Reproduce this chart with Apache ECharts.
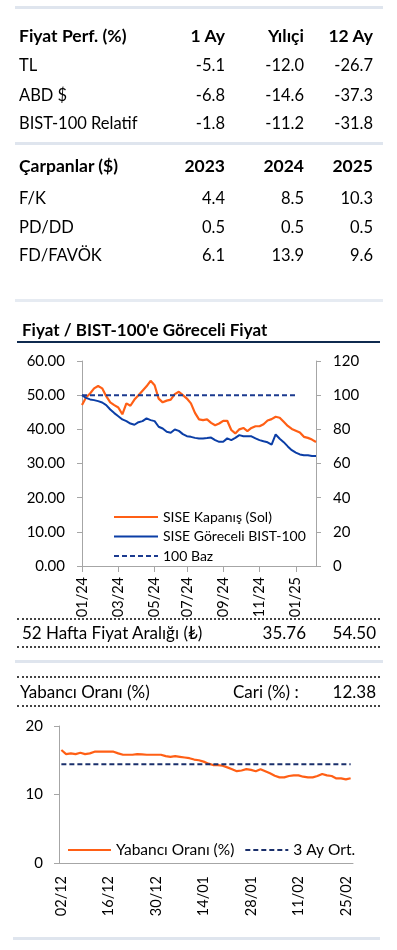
<!DOCTYPE html>
<html><head><meta charset="utf-8">
<script src="https://cdn.jsdelivr.net/npm/echarts@6/dist/echarts.min.js"></script>
<style>
html,body{margin:0;padding:0;background:#fff;}
#page{position:relative;width:397px;height:950px;overflow:hidden;font-family:Lato,"Noto Sans",sans-serif;color:#000;}
.t{position:absolute;height:20px;line-height:20px;white-space:nowrap;font-size:16.5px;}
.b{font-weight:bold;font-size:17.5px;}
.bar{position:absolute;background:#dfe5ee;}
.dot{position:absolute;left:17px;width:363px;height:0;border-top:2px dotted #444;}
#chart{position:absolute;left:0;top:0;width:397px;height:950px;}
</style></head>
<body><div id="page"><div id="chart"></div></div>
<script>
// ---------- table data ----------
const perfHeader = ['Fiyat Perf. (%)', '1 Ay', 'Yılıçi', '12 Ay'];
const perfRows = [
  ['TL', '-5.1', '-12.0', '-26.7'],
  ['ABD $', '-6.8', '-14.6', '-37.3'],
  ['BIST-100 Relatif', '-1.8', '-11.2', '-31.8']
];
const multHeader = ['Çarpanlar ($)', '2023', '2024', '2025'];
const multRows = [
  ['F/K', '4.4', '8.5', '10.3'],
  ['PD/DD', '0.5', '0.5', '0.5'],
  ['FD/FAVÖK', '6.1', '13.9', '9.6']
];
const chartTitle = "Fiyat / BIST-100'e Göreceli Fiyat";
const rangeRow = ['52 Hafta Fiyat Aralığı (₺)', '35.76', '54.50'];
const foreignRow = ['Yabancı Oranı (%)', 'Cari (%) :', '12.38'];

// ---------- chart 1 data (weekly) ----------
const weekDates = [
 '2024-01-01','2024-01-08','2024-01-15','2024-01-22','2024-01-29',
 '2024-02-05','2024-02-12','2024-02-19','2024-02-26',
 '2024-03-04','2024-03-11','2024-03-18','2024-03-25',
 '2024-04-01','2024-04-08','2024-04-15','2024-04-22','2024-04-29',
 '2024-05-06','2024-05-13','2024-05-20','2024-05-27',
 '2024-06-03','2024-06-10','2024-06-17','2024-06-24',
 '2024-07-01','2024-07-08','2024-07-15','2024-07-22','2024-07-29',
 '2024-08-05','2024-08-12','2024-08-19','2024-08-26',
 '2024-09-02','2024-09-09','2024-09-16','2024-09-23','2024-09-30',
 '2024-10-07','2024-10-14','2024-10-21','2024-10-28',
 '2024-11-04','2024-11-11','2024-11-18','2024-11-25',
 '2024-12-02','2024-12-09','2024-12-16','2024-12-23','2024-12-30',
 '2025-01-06','2025-01-13','2025-01-20','2025-01-27',
 '2025-02-03','2025-02-10'
];
const closePrice = [
 47.1,49.3,50.5,52.0,52.7,52.0,49.7,47.9,47.1,46.4,
 44.4,47.6,46.9,48.7,50.0,51.3,52.6,54.2,52.9,49.0,
 47.9,48.4,48.7,50.3,51.0,50.0,49.0,47.6,44.8,42.9,
 42.7,42.9,41.9,41.2,41.7,42.5,42.5,39.8,38.8,40.0,
 40.4,39.5,40.4,40.9,40.9,41.5,42.6,43.0,43.7,43.4,
 42.2,41.0,40.1,39.6,39.1,37.8,37.5,37.0,36.3
];
const relativeBist = [
 100,98.4,97.5,97.1,96.5,95.7,94.2,91.6,89.5,87.7,
 85.8,84.8,83.4,82.7,84.2,84.8,86.4,85.4,84.8,81.5,
 80.5,78.6,78.0,79.9,79.1,77.2,76.0,75.6,75.0,74.7,
 74.7,74.9,75.2,73.7,72.7,72.7,74.7,73.7,75.0,76.6,
 76.0,76.0,75.9,74.7,73.7,73.0,72.4,71.0,77.0,74.5,
 72.5,70.0,67.8,66.4,65.3,64.8,64.8,64.4,64.4
];
const baseLine = [
 100,100,100,100,100,100,100,100,100,100,
 100,100,100,100,100,100,100,100,100,100,
 100,100,100,100,100,100,100,100,100,100,
 100,100,100,100,100,100,100,100,100,100,
 100,100,100,100,100,100,100,100,100,100,
 100,100,100,100,null,null,null,null,null
];
const leftTicks = [0, 60, 10];   // min, max, step
const rightTicks = [0, 120, 20];

// ---------- chart 2 data (daily) ----------
const dayDates = [
 '02/12','03/12','04/12','05/12','06/12','09/12','10/12','11/12','12/12','13/12',
 '16/12','17/12','18/12','19/12','20/12','23/12','24/12','25/12','26/12','27/12',
 '30/12','31/12','02/01','03/01','06/01','07/01','08/01','09/01','10/01','13/01',
 '14/01','15/01','16/01','17/01','20/01','21/01','22/01','23/01','24/01','27/01',
 '28/01','29/01','30/01','31/01','03/02','04/02','05/02','06/02','07/02','10/02',
 '11/02','12/02','13/02','14/02','17/02','18/02','19/02','20/02','21/02','24/02',
 '25/02','26/02'
];
const foreignShare = [
 16.5,15.9,16.0,15.9,16.1,15.9,16.0,16.25,16.25,16.25,
 16.25,16.25,16.0,15.8,15.8,15.8,15.9,15.85,15.8,15.8,
 15.8,15.8,15.6,15.5,15.6,15.5,15.4,15.3,15.1,15.0,
 14.8,14.5,14.3,14.3,14.2,13.96,13.7,13.4,13.5,13.7,
 13.6,13.4,13.7,13.4,13.1,12.75,12.5,12.5,12.7,12.8,
 12.8,12.6,12.5,12.5,12.7,13.0,12.8,12.7,12.35,12.35,
 12.2,12.38
];
const avg3m = [
 14.4,14.4,14.4,14.4,14.4,14.4,14.4,14.4,14.4,14.4,
 14.4,14.4,14.4,14.4,14.4,14.4,14.4,14.4,14.4,14.4,
 14.4,14.4,14.4,14.4,14.4,14.4,14.4,14.4,14.4,14.4,
 14.4,14.4,14.4,14.4,14.4,14.4,14.4,14.4,14.4,14.4,
 14.4,14.4,14.4,14.4,14.4,14.4,14.4,14.4,14.4,14.4,
 14.4,14.4,14.4,14.4,14.4,14.4,14.4,14.4,14.4,14.4,
 14.4,14.4
];
const foreignTicks = [0, 20, 10];

// ---------- HTML layout ----------
const page = document.getElementById('page');
function txt(s, cls, left, right, cy, size) {
  const d = document.createElement('div');
  d.className = 't ' + (cls || '');
  d.textContent = s;
  if (left != null) d.style.left = left + 'px';
  if (right != null) d.style.right = (397 - right) + 'px';
  d.style.top = (cy - 10) + 'px';
  if (size) d.style.fontSize = size + 'px';
  page.appendChild(d);
}
function bar(top, h, left, w, color) {
  const d = document.createElement('div');
  d.className = 'bar';
  d.style.cssText = `top:${top}px;height:${h}px;left:${left}px;width:${w}px;` + (color ? `background:${color};` : '');
  page.appendChild(d);
}
function dot(top) {
  const d = document.createElement('div');
  d.className = 'dot';
  d.style.top = top + 'px';
  page.appendChild(d);
}
const colRight = [225, 304, 373];
function table(header, rows, headerY, rowYs) {
  txt(header[0], 'b', 19, null, headerY);
  for (let c = 1; c < 4; c++) txt(header[c], 'b', null, colRight[c - 1], headerY);
  rows.forEach((r, i) => {
    txt(r[0], '', 19, null, rowYs[i]);
    for (let c = 1; c < 4; c++) txt(r[c], '', null, colRight[c - 1], rowYs[i]);
  });
}
bar(6, 3, 15, 368);
table(perfHeader, perfRows, 36, [65, 95, 123]);
bar(142, 3, 15, 368);
table(multHeader, multRows, 166, [198, 227, 255]);
bar(299, 3, 15, 368, '#e6ebf2');
txt(chartTitle, 'b', 22, null, 330, 17);
bar(341, 2, 17, 363, '#0f2a4f');
dot(618);
txt(rangeRow[0], '', 22, null, 633, 17);
txt(rangeRow[1], '', null, 306, 633, 17);
txt(rangeRow[2], '', null, 376, 633, 17);
dot(646);
bar(660, 3, 15, 368);
dot(676);
txt(foreignRow[0], '', 20, null, 692, 17);
txt(foreignRow[1], '', 233, null, 692, 17);
txt(foreignRow[2], '', null, 376, 692, 17);
dot(705);
bar(937, 3, 13, 367);

// ---------- ECharts ----------
const FONT = 'Lato';
const axisGrey = '#a6a6a6';
const ORANGE = '#ff5f15';
const BLUE = '#0b3ea6';
const NAVY = '#1b3a8f';
const chart = echarts.init(document.getElementById('chart'), null, {renderer: 'canvas'});
function isOddMonthStart(v) {
  const m = +v.slice(5, 7), d = +v.slice(8, 10);
  return m % 2 === 1 && d <= 7;
}
chart.setOption({
  animation: false,
  backgroundColor: 'transparent',
  textStyle: {fontFamily: FONT, color: '#000'},
  grid: [
    {left: 82, top: 361, width: 234, height: 205},
    {left: 59, top: 726, width: 294, height: 137}
  ],
  legend: [
    {
      orient: 'vertical', left: 108, top: 505, itemWidth: 44, itemHeight: 14, itemGap: 5.5,
      itemStyle: {opacity: 0},
      textStyle: {fontFamily: FONT, fontSize: 14, color: '#000', lineHeight: 14},
      data: ['SISE Kapanış (Sol)', 'SISE Göreceli BIST-100', '100 Baz']
    },
    {
      orient: 'horizontal', left: 62, top: 837, itemWidth: 43, itemHeight: 14, itemGap: 10,
      itemStyle: {opacity: 0},
      textStyle: {fontFamily: FONT, fontSize: 15.5, color: '#000'},
      data: ['Yabancı Oranı (%)', '3 Ay Ort.']
    }
  ],
  xAxis: [
    {
      type: 'category', gridIndex: 0, data: weekDates, boundaryGap: false,
      axisLine: {lineStyle: {color: axisGrey, width: 1}},
      axisTick: {show: true, length: 6, interval: (i, v) => isOddMonthStart(v), lineStyle: {color: axisGrey}},
      axisLabel: {
        interval: (i, v) => isOddMonthStart(v), rotate: 90, margin: 11,
        fontFamily: FONT, fontSize: 14.5, color: '#000',
        formatter: v => v.slice(5, 7) + '/' + v.slice(2, 4)
      },
      splitLine: {show: false}
    },
    {
      type: 'category', gridIndex: 1, data: dayDates, boundaryGap: true,
      axisLine: {lineStyle: {color: axisGrey, width: 1}},
      axisTick: {show: false},
      axisLabel: {
        interval: (i) => i % 10 === 0, rotate: 90, margin: 13,
        fontFamily: FONT, fontSize: 14.5, color: '#000'
      },
      splitLine: {show: false}
    }
  ],
  yAxis: [
    {
      type: 'value', gridIndex: 0, position: 'left',
      min: leftTicks[0], max: leftTicks[1], interval: leftTicks[2],
      axisLine: {show: true, lineStyle: {color: axisGrey}},
      axisTick: {show: true, length: 5, lineStyle: {color: axisGrey}},
      axisLabel: {margin: 17, fontFamily: FONT, fontSize: 15, color: '#000', formatter: v => v.toFixed(2)},
      splitLine: {show: false}
    },
    {
      type: 'value', gridIndex: 0, position: 'right',
      min: rightTicks[0], max: rightTicks[1], interval: rightTicks[2],
      axisLine: {show: true, lineStyle: {color: axisGrey}},
      axisTick: {show: true, length: 5, lineStyle: {color: axisGrey}},
      axisLabel: {margin: 17, fontFamily: FONT, fontSize: 15, color: '#000'},
      splitLine: {show: false}
    },
    {
      type: 'value', gridIndex: 1, position: 'left',
      min: foreignTicks[0], max: foreignTicks[1], interval: foreignTicks[2],
      axisLine: {show: true, lineStyle: {color: axisGrey}},
      axisTick: {show: true, length: 5, lineStyle: {color: axisGrey}},
      axisLabel: {margin: 16, fontFamily: FONT, fontSize: 15, color: '#000'},
      splitLine: {show: false}
    }
  ],
  series: [
    {
      name: 'SISE Kapanış (Sol)', type: 'line', xAxisIndex: 0, yAxisIndex: 0,
      data: closePrice, symbol: 'none', color: ORANGE,
      lineStyle: {color: ORANGE, width: 2.2}
    },
    {
      name: 'SISE Göreceli BIST-100', type: 'line', xAxisIndex: 0, yAxisIndex: 1,
      data: relativeBist, symbol: 'none', color: BLUE,
      lineStyle: {color: BLUE, width: 2}
    },
    {
      name: '100 Baz', type: 'line', xAxisIndex: 0, yAxisIndex: 1,
      data: baseLine, symbol: 'none', color: NAVY,
      lineStyle: {color: NAVY, width: 2, type: [5, 3]}
    },
    {
      name: 'Yabancı Oranı (%)', type: 'line', xAxisIndex: 1, yAxisIndex: 2,
      data: foreignShare, symbol: 'none', color: ORANGE,
      lineStyle: {color: ORANGE, width: 2.2}
    },
    {
      name: '3 Ay Ort.', type: 'line', xAxisIndex: 1, yAxisIndex: 2,
      data: avg3m, symbol: 'none', color: '#1a2f6b',
      lineStyle: {color: '#1a2f6b', width: 2, type: [5, 3]}
    }
  ]
});
</script></body></html>
